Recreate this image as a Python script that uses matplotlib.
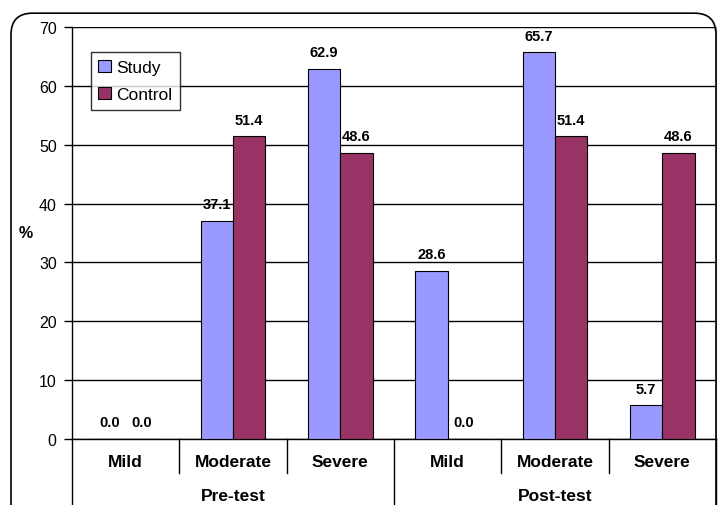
import matplotlib.pyplot as plt
import numpy as np
from matplotlib.patches import FancyBboxPatch
from matplotlib.transforms import blended_transform_factory

plt.rcParams['font.family'] = ['Liberation Sans', 'DejaVu Sans']

severity = ["Mild", "Moderate", "Severe", "Mild", "Moderate", "Severe"]
phases = ["Pre-test", "Post-test"]
study = [0.0, 37.1, 62.9, 28.6, 65.7, 5.7]
control = [0.0, 51.4, 48.6, 0.0, 51.4, 48.6]

fig = plt.figure(figsize=(7.18, 5.06), dpi=100)
ax = fig.add_axes([72 / 718, 66 / 506, 644 / 718, 412 / 506])

# rounded outer frame
fig.patches.append(FancyBboxPatch((11 / 718, -0.05), 705 / 718, 1.022, transform=fig.transFigure,
                                  boxstyle="round,pad=0,rounding_size=0.03", fill=False,
                                  edgecolor="black", linewidth=1.2, mutation_aspect=718 / 506))

x = np.arange(len(severity))
w = 0.3
b1 = ax.bar(x - w / 2, study, w, color="#9999FF", edgecolor="black", linewidth=0.8, label="Study", zorder=3)
b2 = ax.bar(x + w / 2, control, w, color="#993366", edgecolor="black", linewidth=0.8, label="Control", zorder=3)
for bars in (b1, b2):
    ax.bar_label(bars, fmt="%.1f", padding=7, fontsize=10.5, fontweight="bold")

ax.set_xlim(-0.5, len(severity) - 0.5)
ax.set_ylim(0, 70)
ax.set_yticks(range(0, 71, 10))
ax.tick_params(axis="y", length=6, width=1, labelsize=11.5, pad=5)
ax.set_xticks([])
ax.yaxis.grid(True, color="black", linewidth=1)
ax.set_axisbelow(True)
ax.spines["top"].set_visible(False)
ax.spines["right"].set_color("#a0a0a0")
ax.spines["left"].set_linewidth(1)
ax.spines["bottom"].set_linewidth(1)

ax.text(-0.072, 0.5, "%", transform=ax.transAxes, fontsize=11.5, fontweight="bold", ha="center", va="center")

# multi-level category axis
tr = blended_transform_factory(ax.transData, ax.transAxes)
for i, name in enumerate(severity):
    ax.text(i, -0.054, name, transform=tr, ha="center", va="center", fontsize=12.5, fontweight="bold")
for b in np.arange(-0.5, len(severity), 1):
    outer = b in (-0.5, 2.5, 5.5)
    ax.plot([b, b], [0, -0.2 if outer else -0.083], transform=tr, color="black", linewidth=1, clip_on=False)
for j, name in enumerate(phases):
    ax.text(1 + 3 * j, -0.138, name, transform=tr, ha="center", va="center", fontsize=12.5, fontweight="bold")

leg = ax.legend(loc="upper left", bbox_to_anchor=(0.029, 0.94), fontsize=12.5, frameon=True, fancybox=False,
                handlelength=0.7, handleheight=0.7, handletextpad=0.3, borderpad=0.45, labelspacing=0.7,
                borderaxespad=0)
leg.get_frame().set_edgecolor("black")
leg.get_frame().set_linewidth(1)

fig.savefig("out.png", dpi=100)
